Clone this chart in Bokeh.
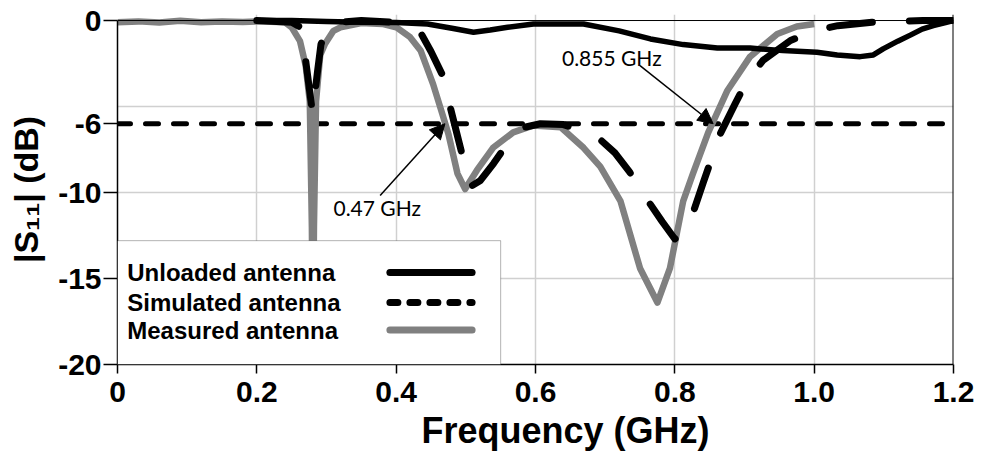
from bokeh.plotting import figure
from bokeh.models import (Range1d, FixedTicker, Span, Arrow, NormalHead, Label,
                          BoxAnnotation, CustomJSTickFormatter)
from bokeh.embed import file_html
from bokeh.resources import INLINE

# Frequency sweep (GHz) and |S11| (dB) for each antenna
unloaded_f = [0.2, 0.25, 0.3, 0.35, 0.40, 0.445, 0.48, 0.511, 0.535, 0.56, 0.597, 0.669,
              0.72, 0.765, 0.812, 0.861, 0.908, 0.955, 1.004, 1.033, 1.066, 1.085, 1.099,
              1.12, 1.138, 1.155, 1.171, 1.19, 1.2]
unloaded_db = [0, 0, -0.05, -0.1, -0.12, -0.2, -0.45, -0.68, -0.55, -0.39, -0.2, -0.2,
               -0.6, -1.07, -1.4, -1.6, -1.6, -1.75, -1.84, -2.0, -2.1, -2.0, -1.65,
               -1.2, -0.85, -0.5, -0.3, -0.1, 0]

simulated_f = [0.2, 0.25, 0.263, 0.27, 0.28, 0.287, 0.292, 0.3, 0.32, 0.35, 0.40, 0.42,
               0.435, 0.45, 0.468, 0.478, 0.496, 0.509, 0.521, 0.54, 0.564, 0.585, 0.607,
               0.64, 0.674, 0.695, 0.714, 0.735, 0.755, 0.782, 0.80, 0.812, 0.826, 0.841,
               0.865, 0.887, 0.905, 0.927, 0.966, 1.0, 1.034, 1.083, 1.156, 1.2]
simulated_db = [0, -0.1, -0.4, -2.3, -5.4, -3.0, -1.4, -0.4, -0.1, 0, -0.1, -0.3,
                -0.7, -1.8, -3.3, -5.1, -8.0, -9.6, -9.3, -8.3, -6.9, -6.2, -6.0,
                -6.05, -6.5, -7.0, -7.7, -8.8, -10.1, -11.7, -12.7, -12.4, -11.2, -9.4,
                -6.6, -4.8, -3.4, -2.3, -1.16, -0.6, -0.3, -0.1, 0, 0]

measured_f = [0.0, 0.03, 0.06, 0.09, 0.12, 0.15, 0.18, 0.21, 0.24, 0.25, 0.262, 0.27,
              0.276, 0.279, 0.2805, 0.282, 0.285, 0.291, 0.298, 0.31, 0.32, 0.35, 0.38,
              0.40, 0.42, 0.435, 0.453, 0.466, 0.475, 0.488, 0.499, 0.516, 0.539, 0.568,
              0.597, 0.636, 0.669, 0.693, 0.722, 0.75, 0.775, 0.793, 0.812, 0.826, 0.848,
              0.875, 0.908, 0.947, 0.975, 1.0]
measured_db = [-0.1, -0.05, -0.12, -0.02, -0.1, -0.05, -0.08, -0.05, -0.1, -0.4, -1.2, -2.6,
               -4.7, -12.0, -20.0, -12.0, -4.7, -2.0, -1.35, -0.6, -0.4, -0.15, -0.2,
               -0.39, -0.97, -1.74, -3.7, -5.4, -6.6, -8.9, -9.8, -8.7, -7.4, -6.5,
               -6.1, -6.2, -7.4, -8.5, -10.5, -14.4, -16.4, -14.4, -10.5, -8.9, -6.5,
               -4.1, -2.1, -0.78, -0.35, -0.2]

threshold_db = -6
crossings_ghz = [0.47, 0.855]
crossing_labels = ["0.47 GHz", "0.855 GHz"]

x_ticks = [0, 0.2, 0.4, 0.6, 0.8, 1.0, 1.2]
y_ticks = [0, -6, -10, -15, -20]
y_grid = [-5, -10, -15]

legend_names = ["Unloaded antenna", "Simulated antenna", "Measured antenna"]

FONT = "Liberation Sans"
NOTE_FONT = "Lato"
GRAY = "#808080"

p = figure(width=989, height=456, output_backend="svg", toolbar_location=None,
           x_range=Range1d(0, 1.2), y_range=Range1d(-20, 0.35),
           min_border_left=117, min_border_right=36, min_border_top=14,
           min_border_bottom=92)
p.outline_line_color = None
p.background_fill_color = "white"

# grid
p.xgrid.ticker = FixedTicker(ticks=x_ticks[1:-1])
p.ygrid.ticker = FixedTicker(ticks=y_grid)
for g in (p.xgrid, p.ygrid):
    g.grid_line_color = "#d0d0d0"
    g.grid_line_width = 1.5

# axes
p.xaxis.ticker = FixedTicker(ticks=x_ticks)
p.xaxis.formatter = CustomJSTickFormatter(code="return tick == 0 ? '0' : tick.toFixed(1);")
p.yaxis.ticker = FixedTicker(ticks=y_ticks)
p.yaxis.formatter = CustomJSTickFormatter(code="return String(tick);")
p.yaxis.bounds = (-20, 0)
for ax in (p.xaxis, p.yaxis):
    ax.axis_line_color = "black"
    ax.axis_line_width = 1.5
    ax.major_tick_line_color = "black"
    ax.major_tick_line_width = 1.5
    ax.major_tick_in = 0
    ax.minor_tick_line_color = None
    ax.major_label_text_font = FONT
    ax.major_label_text_font_style = "bold"
    ax.major_label_text_font_size = "30px"
    ax.major_label_text_color = "black"
    ax.axis_label_text_font = FONT
    ax.axis_label_text_font_style = "bold"
    ax.axis_label_text_color = "black"
p.xaxis.major_tick_out = 9
p.xaxis.major_label_standoff = 8
p.yaxis.major_tick_out = 14
p.yaxis.major_label_standoff = 2
# leading no-break spaces nudge the centred title a little to the right
p.xaxis.axis_label = "\u00a0" * 6 + "Frequency (GHz)"
p.xaxis.axis_label_text_font_size = "36px"
p.xaxis.axis_label_standoff = 5
p.yaxis.axis_label = "|S\u2081\u2081| (dB)"
p.yaxis.axis_label_text_font_size = "34px"
p.yaxis.axis_label_standoff = 10

# frame edges: top at 0 dB and right at 1.2 GHz
p.add_layout(Span(location=0, dimension="width", line_color="black", line_width=1))
p.add_layout(Span(location=1.2, dimension="height", line_color="black", line_width=2))

# -6 dB reference
p.add_layout(Span(location=threshold_db, dimension="width", line_color="black",
                  line_width=5, line_dash="13 15", line_cap="round", level="underlay"))

p.line(measured_f, measured_db, line_color=GRAY, line_width=6.5, line_join="round")
p.line(simulated_f, simulated_db, line_color="black", line_width=7, line_join="round",
       line_cap="round", line_dash="43 37")
p.line(unloaded_f, unloaded_db, line_color="black", line_width=5.5, line_join="round")

# crossing-frequency callouts
callouts = [
    dict(x0=0.377, y0=-10.17, tx=0.31, ty=-10.87),
    dict(x0=0.75, y0=-2.62, tx=0.638, ty=-2.15),
]
for f, text, c in zip(crossings_ghz, crossing_labels, callouts):
    p.add_layout(Arrow(x_start=c["x0"], y_start=c["y0"], x_end=f, y_end=threshold_db,
                       line_color="black", line_width=1.5,
                       end=NormalHead(size=15, fill_color="black", line_color="black")))
    p.add_layout(Label(x=c["tx"], y=c["ty"], text=text, text_baseline="middle",
                       text_font=NOTE_FONT, text_font_size="21px",
                       text_color="black"))

# legend: names on the left, line samples on the right
p.add_layout(BoxAnnotation(left=0, right=0.55, top=-12.8, bottom=-20,
                           fill_color="white", fill_alpha=1.0, line_color="black",
                           line_width=1, level="overlay"))
rows_y = [-14.65, -16.4, -18.0]
samples = [
    dict(line_color="black", line_width=7, line_dash="solid"),
    dict(line_color="black", line_width=7, line_dash="8 12"),
    dict(line_color=GRAY, line_width=7, line_dash="solid"),
]
for name, y, s in zip(legend_names, rows_y, samples):
    p.add_layout(Label(x=0.014, y=y, text=name, text_baseline="middle",
                       text_font=FONT, text_font_style="bold",
                       text_font_size="24px", text_color="black", level="overlay"))
    p.add_layout(Arrow(x_start=0.391, y_start=y, x_end=0.509, y_end=y, start=None, end=None,
                       line_cap="round", level="overlay", **s))

open("out.html", "w").write(file_html(p, INLINE))
